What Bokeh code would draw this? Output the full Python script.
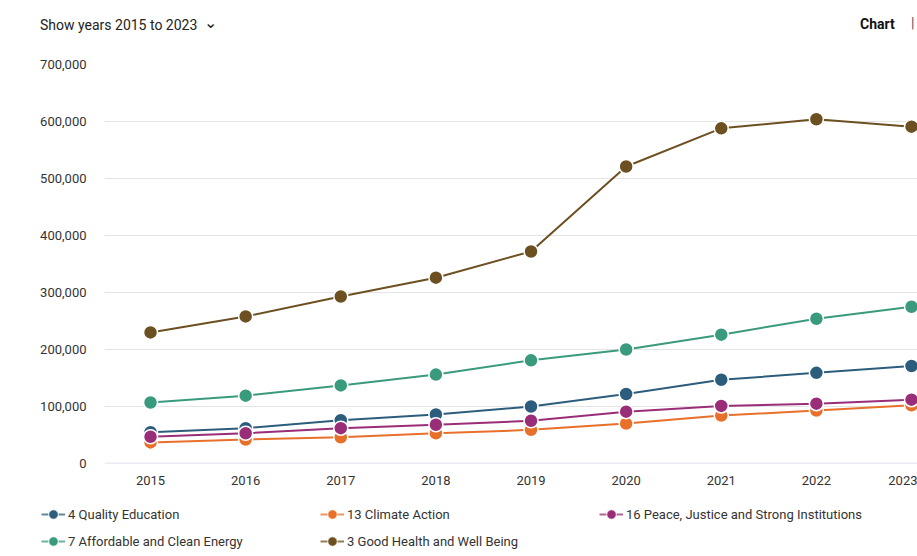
from bokeh.plotting import figure
from bokeh.models import (ColumnDataSource, Range1d, FixedTicker, NumeralTickFormatter,
                          Legend, LegendItem, Div, Span)
from bokeh.layouts import column
from bokeh.embed import file_html
from bokeh.resources import INLINE

years = [2015, 2016, 2017, 2018, 2019, 2020, 2021, 2022, 2023]
series_names = [
    "4 Quality Education",
    "13 Climate Action",
    "16 Peace, Justice and Strong Institutions",
    "7 Affordable and Clean Energy",
    "3 Good Health and Well Being",
]
quality_education = [55000, 62000, 76000, 86000, 100000, 122000, 147000, 159000, 171000]
climate_action = [37000, 42000, 46000, 53000, 59000, 70000, 84000, 93000, 102000]
peace_justice = [47000, 53000, 62000, 68000, 75000, 91000, 101000, 105000, 112000]
affordable_energy = [107000, 119000, 137000, 156000, 181000, 200000, 226000, 254000, 275000]
good_health = [230000, 258000, 293000, 326000, 372000, 521000, 588000, 604000, 591000]
series_values = [quality_education, climate_action, peace_justice, affordable_energy, good_health]
colors = ["#2c5d7c", "#e8702a", "#9a2d78", "#3a9a7e", "#6d5021"]
y_ticks = [0, 100000, 200000, 300000, 400000, 500000, 600000, 700000]

FONT = "Roboto"
TXT = "#333333"

header = Div(
    text=(
        '<div style="position:relative;width:917px;height:48px;font-family:Roboto,sans-serif;">'
        '<span style="position:absolute;left:40px;top:14px;font-size:14px;color:#222;">'
        'Show years 2015 to 2023 <span style="display:inline-block;margin-left:3px;'
        'font-size:16px;transform:translateY(-2px);">&#x2304;</span></span>'
        '<span style="position:absolute;left:860px;top:14px;font-size:14px;font-weight:bold;color:#111;">'
        'Chart</span>'
        '<span style="position:absolute;left:911px;top:13px;font-size:14px;color:#555;">|</span>'
        '</div>'
    ),
    width=917, height=48, margin=(0, 0, 0, 0),
)

p = figure(width=917, height=445, output_backend="svg", toolbar_location=None,
           x_range=Range1d(2014.516, 2023.063), y_range=Range1d(0, 700000),
           min_border_left=104, min_border_right=0, min_border_top=16, min_border_bottom=30)
p.outline_line_color = None
p.background_fill_color = "white"
p.border_fill_color = "white"

p.xaxis.ticker = FixedTicker(ticks=years)
p.yaxis.ticker = FixedTicker(ticks=y_ticks)
p.yaxis.formatter = NumeralTickFormatter(format="0,0")
for ax in (p.xaxis, p.yaxis):
    ax.axis_line_color = None
    ax.major_tick_line_color = None
    ax.minor_tick_line_color = None
    ax.major_label_text_font = FONT
    ax.major_label_text_font_size = "13px"
    ax.major_label_text_color = TXT
p.yaxis.major_label_standoff = 12
p.xaxis.major_label_standoff = 6
p.xgrid.grid_line_color = None
p.ygrid.grid_line_color = "#e4e4e4"
p.ygrid.grid_line_width = 1
p.add_layout(Span(location=0, dimension="width", line_color="#d3dbe8", line_width=1.5))

# Legend strip below the chart; its renderers share the chart's data sources,
# while the strip's ranges keep the data itself out of view.
leg = figure(width=917, height=63, output_backend="svg", toolbar_location=None,
             x_range=Range1d(0, 1), y_range=Range1d(0, 1),
             min_border_left=0, min_border_right=0, min_border_top=0, min_border_bottom=0)
leg.xaxis.visible = False
leg.yaxis.visible = False
leg.grid.visible = False
leg.outline_line_color = None
leg.border_fill_color = "white"

items = []
for name, vals, c in zip(series_names, series_values, colors):
    src = ColumnDataSource(dict(x=years, y=vals))
    p.line("x", "y", source=src, line_color=c, line_width=2)
    p.scatter("x", "y", source=src, size=14, fill_color=c, line_color="white", line_width=1.5)
    lr = leg.line("x", "y", source=src, line_color=c, line_width=2, line_alpha=0.75)
    sr = leg.scatter("x", "y", source=src, size=11, fill_color=c, line_color="white", line_width=1)
    items.append(LegendItem(label=name, renderers=[lr, sr]))

legend = Legend(items=items, location=(41, 3), orientation="horizontal", ncols=3,
                glyph_width=24, glyph_height=24, label_height=20, label_width=249,
                label_standoff=3, spacing=3, padding=0, margin=0,
                border_line_color=None, background_fill_alpha=0,
                label_text_font=FONT, label_text_font_size="13px", label_text_color=TXT)
leg.add_layout(legend)

top = column(header, p, spacing=0)
open("out.html", "w").write(file_html([top, leg], INLINE))
